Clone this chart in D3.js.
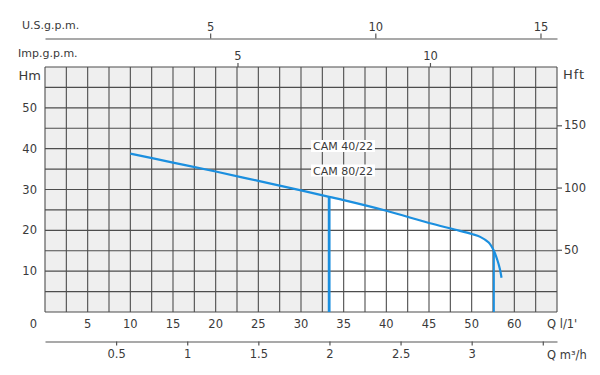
<!DOCTYPE html>
<html>
<head>
<meta charset="utf-8">
<script src="https://cdn.jsdelivr.net/npm/d3@7"></script>
<style>
  body {margin: 0; background: #fff;}
  svg text {font-family: "DejaVu Sans", sans-serif; fill: #3a3a3a;}
</style>
</head>
<body>
<div class="chartWrap"></div>
<script>
//Data
const flowLmin = [10, 15, 20, 25, 30, 33.3, 35, 40, 45, 48, 50, 51, 52, 52.6, 53, 53.3, 53.5];
const headM = [38.8, 36.6, 34.4, 32.1, 29.8, 28.2, 27.4, 24.8, 21.8, 20.2, 19.1, 18.4, 17.0, 15.0, 12.8, 10.6, 8.4];
const workRange = [33.3, 52.6]; //l/min, the two vertical limits
const models = ["CAM 40/22", "CAM 80/22"];
const lminTicks = [5, 10, 15, 20, 25, 30, 35, 40, 45, 50, 55];
const lminLabels = ["5", "10", "15", "20", "25", "30", "35", "40", "45", "50", "60"];
const hmTicks = [10, 20, 30, 40, 50];
const hftTicks = [50, 100, 150];
const usTicks = [5, 10, 15];
const impTicks = [5, 10];
const m3hTicks = [0.5, 1, 1.5, 2, 2.5, 3, 3.5];
const m3hLabels = ["0.5", "1", "1.5", "2", "2.5", "3", ""];

//Layout
let w = 600, h = 375,
  margin = {top: 67, right: 43, bottom: 63, left: 45},
  blue = "#1b8fdf",
  gridCol = "#4d4d4d";

let svg = d3.select(".chartWrap").append("svg").attr("width", w).attr("height", h);

//Scales
let x = d3.scaleLinear().domain([0, 60]).range([margin.left, w - margin.right]);
let y = d3.scaleLinear().domain([0, 60]).range([h - margin.bottom, margin.top]);
let yFt = d3.scaleLinear().domain([0, 60 * 3.2808]).range([h - margin.bottom, margin.top]);
let xUs = d3.scaleLinear().domain([0, 15.5]).range([margin.left, w - margin.right]);
let xImp = d3.scaleLinear().domain([0, 13.3]).range([margin.left, w - margin.right]);
let xM3h = d3.scaleLinear().domain([0, 60 / 16.667]).range([margin.left, w - margin.right]);

let pts = flowLmin.map((q, i) => [q, headM[i]]);

//Grey background
svg.append("rect").attr("x", x(0)).attr("y", y(60)).attr("width", x(60) - x(0)).attr("height", y(0) - y(60)).attr("fill", "#efefef");

//White working area under the curve
let inside = pts.filter(p => p[0] >= workRange[0] && p[0] <= workRange[1]);
let area = d3.area().x(d => x(d[0])).y0(y(0)).y1(d => y(d[1])).curve(d3.curveCatmullRom);
svg.append("path").datum(inside).attr("d", area).attr("fill", "#fff");

//Grid
let g = svg.append("g").attr("stroke", gridCol).attr("stroke-width", 1.1);
g.selectAll("line.v").data(d3.range(0, 60.01, 2.5)).enter().append("line")
  .attr("x1", d => x(d)).attr("x2", d => x(d)).attr("y1", y(0)).attr("y2", y(60));
g.selectAll("line.h").data(d3.range(0, 60.01, 5)).enter().append("line")
  .attr("y1", d => y(d)).attr("y2", d => y(d)).attr("x1", x(0)).attr("x2", x(60));

//Curve and limit lines
let line = d3.line().x(d => x(d[0])).y(d => y(d[1])).curve(d3.curveCatmullRom);
svg.append("path").datum(pts).attr("d", line).attr("fill", "none").attr("stroke", blue).attr("stroke-width", 2.2);
let hAt = q => {
  let i = flowLmin.findIndex(v => v >= q);
  return headM[i];
};
svg.append("line").attr("x1", x(workRange[0])).attr("x2", x(workRange[0])).attr("y1", y(0)).attr("y2", y(hAt(workRange[0])))
  .attr("stroke", blue).attr("stroke-width", 2.8);
svg.append("line").attr("x1", x(workRange[1])).attr("x2", x(workRange[1])).attr("y1", y(0)).attr("y2", y(hAt(workRange[1])))
  .attr("stroke", blue).attr("stroke-width", 2);

//Model labels with white boxes
models.forEach(function(m, i) {
  let ty = 146 + i * 24.5;
  let t = svg.append("text").text(m).attr("x", 343).attr("y", ty + 4).attr("text-anchor", "middle").attr("font-size", 11);
  let bb = t.node().getBBox();
  svg.insert("rect", "text").attr("x", bb.x - 2).attr("y", ty - 6).attr("width", bb.width + 4).attr("height", 12).attr("fill", "#fff");
});

//Bottom l/min labels
svg.selectAll("text.lmin").data(lminTicks).enter().append("text").attr("class", "lmin")
  .text((d, i) => lminLabels[i]).attr("x", d => x(d)).attr("y", 328).attr("text-anchor", "middle").attr("font-size", 11.5);
svg.append("text").text("0").attr("x", 37).attr("y", 328).attr("text-anchor", "end").attr("font-size", 11.5);
svg.append("text").text("Q  l/1'").attr("x", 547).attr("y", 328).attr("font-size", 11.5);

//Left Hm labels
svg.selectAll("text.hm").data(hmTicks).enter().append("text").attr("class", "hm")
  .text(d => d).attr("x", 37).attr("y", d => y(d) + 4).attr("text-anchor", "end").attr("font-size", 11.5);
svg.append("text").text("Hm").attr("x", 41).attr("y", 80).attr("text-anchor", "end").attr("font-size", 13);

//Right Hft axis
svg.append("g").attr("class", "axis").attr("transform", "translate(" + x(60) + ",0)")
  .call(d3.axisRight(yFt).tickValues(hftTicks).tickSize(5).tickPadding(2))
  .call(a => a.select(".domain").remove());
svg.append("text").text("Hft").attr("x", 563).attr("y", 79).attr("font-size", 13).attr("letter-spacing", 1);

//Imp.g.p.m. ticks on top of the grid
svg.append("g").attr("class", "axis").attr("transform", "translate(0," + y(60) + ")")
  .call(d3.axisTop(xImp).tickValues(impTicks).tickSize(4).tickPadding(3))
  .call(a => a.select(".domain").remove());
svg.append("text").text("Imp.g.p.m.").attr("x", 18).attr("y", 57).attr("font-size", 11);

//U.S.g.p.m. axis
svg.append("g").attr("class", "axis").attr("transform", "translate(0,38.5)")
  .call(d3.axisTop(xUs).tickValues(usTicks).tickSizeInner(5).tickSizeOuter(0).tickPadding(3));
svg.append("text").text("U.S.g.p.m.").attr("x", 22).attr("y", 29).attr("font-size", 11);

//m3/h axis at the bottom
svg.append("g").attr("class", "axis").attr("transform", "translate(0,341.5)")
  .call(d3.axisBottom(xM3h).tickValues(m3hTicks).tickFormat((d, i) => m3hLabels[i]).tickSizeInner(4).tickSizeOuter(0).tickPadding(4));
svg.append("text").text("Q  m³/h").attr("x", 547).attr("y", 359).attr("font-size", 11.5);

//Axis styling
svg.selectAll(".axis text").attr("font-size", 11.5).style("font-family", "DejaVu Sans, sans-serif").attr("fill", "#3a3a3a");
svg.selectAll(".axis line, .axis path").attr("stroke", "#555").attr("stroke-width", 1.2);
</script>
</body>
</html>
